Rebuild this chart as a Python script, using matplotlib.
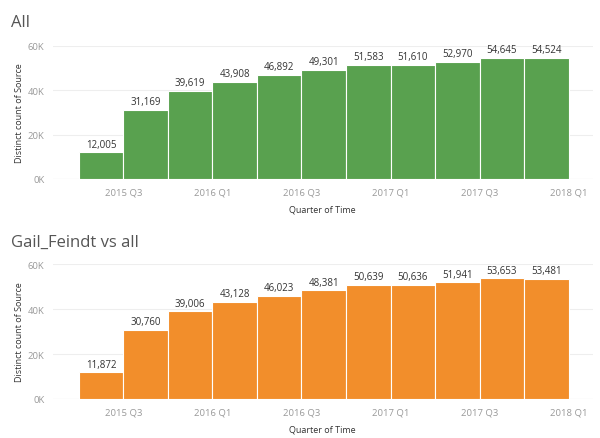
import numpy as np
import matplotlib.pyplot as plt

plt.rcParams['font.family'] = ['Open Sans', 'DejaVu Sans']

# quarters 2015 Q2 .. 2017 Q4, one bar each
quarters = ['2015 Q2', '2015 Q3', '2015 Q4', '2016 Q1', '2016 Q2', '2016 Q3',
            '2016 Q4', '2017 Q1', '2017 Q2', '2017 Q3', '2017 Q4']
all_counts = [12005, 31169, 39619, 43908, 46892, 49301, 51583, 51610, 52970, 54645, 54524]
gail_counts = [11872, 30760, 39006, 43128, 46023, 48381, 50639, 50636, 51941, 53653, 53481]
tick_labels = ['2015 Q3', '2016 Q1', '2016 Q3', '2017 Q1', '2017 Q3', '2018 Q1']
y_ticks = [0, 20000, 40000, 60000]
y_tick_labels = ['0K', '20K', '40K', '60K']

fig = plt.figure(figsize=(6, 4.39), dpi=100)


def draw_panel(rect, values, color, title, title_y):
    ax = fig.add_axes(rect)
    x = np.arange(len(values))
    ax.bar(x, values, width=1.0, align='edge', color=color,
           edgecolor='white', linewidth=0.8, zorder=2)
    for xi, v in zip(x, values):
        ax.text(xi + 0.5, v + 1200, f'{v:,}', ha='center', va='bottom',
                fontsize=7, color='#333333')
    ax.set_xlim(-0.58, 11.54)
    ax.set_ylim(0, 60000)
    ax.set_xticks(np.arange(1, 12, 2))
    ax.set_xticklabels(tick_labels)
    ax.set_yticks(y_ticks)
    ax.set_yticklabels(y_tick_labels)
    ax.tick_params(length=0, labelsize=6.8, labelcolor='#999999', pad=6)
    ax.grid(axis='y', color='#eeeeee', linewidth=0.8, zorder=0)
    for s in ax.spines.values():
        s.set_visible(False)
    ax.axhline(0, color='#e6e6e6', linewidth=0.8, zorder=1)
    ax.set_xlabel('Quarter of Time', fontsize=6.5, color='#333333', labelpad=6)
    ax.set_ylabel('Distinct count of Source', fontsize=6.5, color='#333333', labelpad=3)
    fig.text(0.018, title_y, title, fontsize=12, color='#555555', va='center')
    return ax


draw_panel([0.088, 0.590, 0.9, 0.303], all_counts, '#59A14F', 'All', 0.948)
draw_panel([0.088, 0.089, 0.9, 0.307], gail_counts, '#F28E2B', 'Gail_Feindt vs all', 0.446)

plt.savefig('out.png', dpi=100)
